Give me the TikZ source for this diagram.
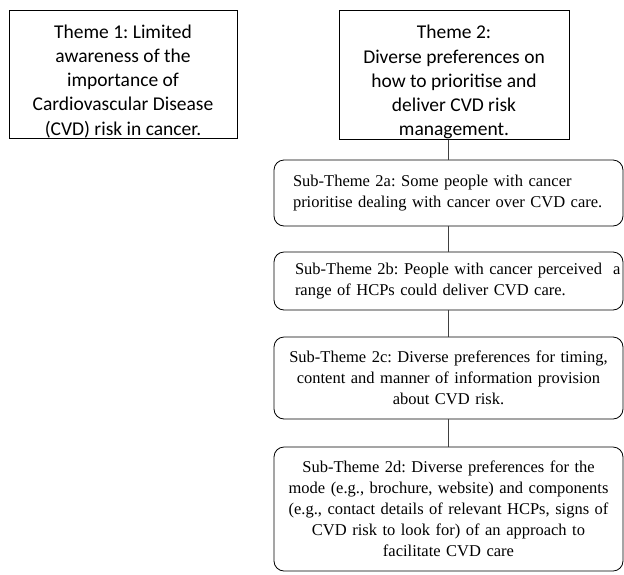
\documentclass[tikz,border=0pt]{standalone}
\usepackage{fontspec}
\setmainfont{Liberation Serif}
\newfontfamily\themefont{Carlito}
\frenchspacing
\tikzset{
  themebox/.style={draw, line width=0.8pt, align=center, inner sep=0pt,
    font=\themefont\fontsize{19.5}{24.3}\selectfont},
  subbox/.style={draw, rounded corners=10pt, line width=0.8pt, inner xsep=19pt,
    text width=311pt, font=\fontsize{16.5}{21}\selectfont},
  link/.style={draw, line width=0.7pt, black!75}
}
\begin{document}
\begin{tikzpicture}[x=1pt, y=-1pt]
        \useasboundingbox (0,0) rectangle (624,574);
        % Themes
        \node[themebox, minimum width=228pt, minimum height=126pt] (theme1) at (123,74)
          {\rule{0pt}{28pt}Theme 1: Limited\\awareness of the\\importance of\\Cardiovascular Disease\\(CVD) risk in cancer.};
        \node[themebox, minimum width=230pt, minimum height=128pt] (theme2) at (454,75)
          {\rule{0pt}{28pt}Theme 2:\\Diverse preferences on\\how to prioritise and\\deliver CVD risk\\management.};
        % Sub-themes of theme 2
        \node[subbox, minimum height=66pt, align=left] (sub2a) at (448.5,193)
          {Sub-Theme 2a: Some people with cancer\\prioritise dealing with cancer over CVD care.};
        \node[subbox, minimum height=58pt, align=left, inner xsep=21pt, text width=307pt] (sub2b) at (448.5,281)
          {\mbox{Sub-Theme 2b: People with cancer perceived\ \ a}\\range of HCPs could deliver CVD care.};
        \node[subbox, minimum height=82pt, align=center, inner xsep=2pt, text width=345pt] (sub2c) at (448.5,378)
          {Sub-Theme 2c: Diverse preferences for timing,\\content and manner of information provision\\about CVD risk.};
        \node[subbox, minimum height=124pt, align=center, inner xsep=2pt, text width=345pt] (sub2d) at (448.5,509)
          {Sub-Theme 2d: Diverse preferences for the\\mode (e.g., brochure, website) and components\\(e.g., contact details of relevant HCPs, signs of\\CVD risk to look for) of an approach to\\facilitate CVD care};
        \draw[link] (sub2a.north) -- (sub2a.north |- theme2.south);
        \draw[link] (sub2a) -- (sub2b);
        \draw[link] (sub2b) -- (sub2c);
        \draw[link] (sub2c) -- (sub2d);
      \end{tikzpicture}
\end{document}
